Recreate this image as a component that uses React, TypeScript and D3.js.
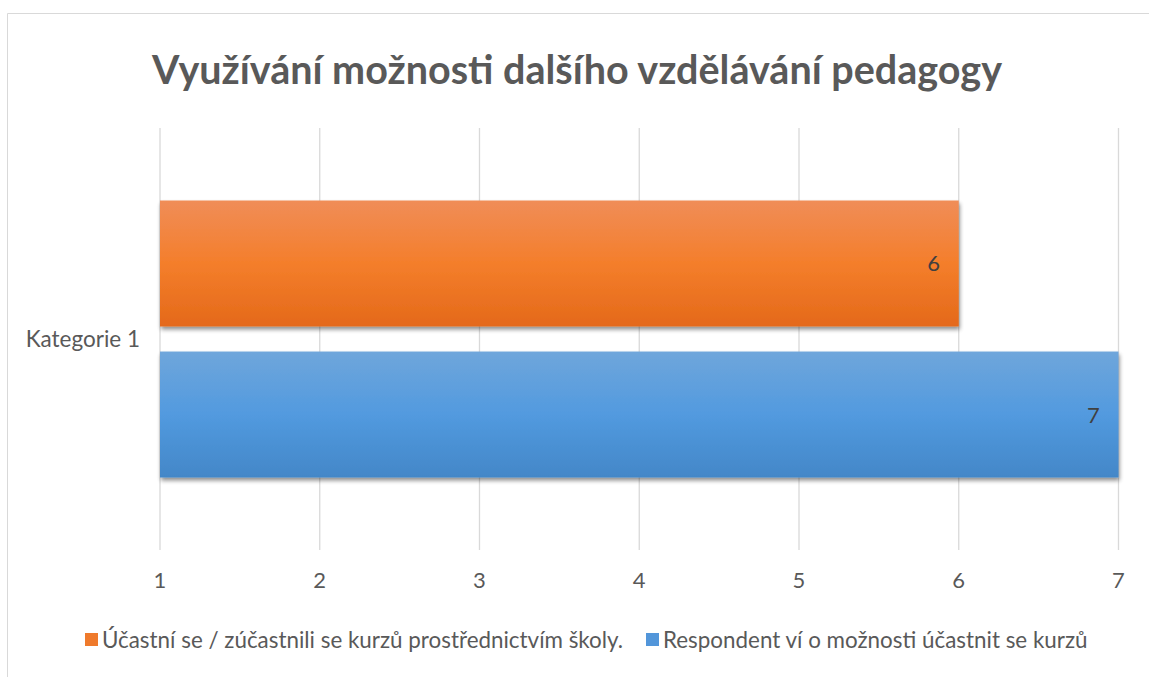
import React from "react";
import * as d3 from "d3";

const title = "Využívání možnosti dalšího vzdělávání pedagogy";
const categories = ["Kategorie 1"];
const seriesNames = [
  "Účastní se / zúčastnili se kurzů prostřednictvím školy.",
  "Respondent ví o možnosti účastnit se kurzů",
];
const seriesValues = [[6], [7]];
const xTicks = [1, 2, 3, 4, 5, 6, 7];

const W = 1149;
const H = 677;
const FONT = "Lato, 'Open Sans', sans-serif";
const TEXT = "#595959";

export default function App() {
  const x = d3.scaleLinear().domain([1, 7]).range([160, 1118.5]);
  const yBand = d3.scaleBand().domain(categories).range([128, 550]);
  const inner = d3
    .scaleBand()
    .domain(seriesNames.map((_, i) => String(i)))
    .range([0, yBand.bandwidth()])
    .paddingInner(0.166)
    .paddingOuter(0.48);

  const gradIds = ["gOrange", "gBlue"];
  const grads = [
    ["#F08D58", "#F47E2B", "#E4691A"],
    ["#6FA6DB", "#529ADF", "#4387C8"],
  ];
  const legendColors = ["#EF7A2C", "#5296DA"];

  return (
    <svg
      width={W}
      height={H}
      style={{ position: "absolute", left: 0, top: 0, background: "#fff" }}
      fontFamily={FONT}
    >
      <defs>
        {grads.map((g, i) => (
          <linearGradient key={i} id={gradIds[i]} x1="0" y1="0" x2="0" y2="1">
            <stop offset="0%" stopColor={g[0]} />
            <stop offset="50%" stopColor={g[1]} />
            <stop offset="100%" stopColor={g[2]} />
          </linearGradient>
        ))}
        <filter id="shadow" x="-5%" y="-20%" width="110%" height="150%">
          <feGaussianBlur in="SourceAlpha" stdDeviation="2" />
          <feOffset dx="1" dy="3" result="off" />
          <feComponentTransfer>
            <feFuncA type="linear" slope="0.45" />
          </feComponentTransfer>
          <feMerge>
            <feMergeNode />
            <feMergeNode in="SourceGraphic" />
          </feMerge>
        </filter>
      </defs>
      <rect x={0} y={0} width={W} height={H} fill="#fff" />
      <line x1={7.5} y1={13.5} x2={W} y2={13.5} stroke="#D9D9D9" strokeWidth={1} />
      <line x1={7.5} y1={13.5} x2={7.5} y2={H} stroke="#D9D9D9" strokeWidth={1} />

      <text
        x={577}
        y={84}
        textAnchor="middle"
        fontSize={39.5}
        fontWeight="bold"
        fill={TEXT}
      >
        {title}
      </text>

      {xTicks.map((t) => (
        <line
          key={t}
          x1={x(t)}
          x2={x(t)}
          y1={128}
          y2={550}
          stroke="#D9D9D9"
          strokeWidth={1.3}
        />
      ))}

      {categories.map((c, ci) =>
        seriesNames.map((s, si) => {
          const y0 = (yBand(c) as number) + (inner(String(si)) as number);
          const h = inner.bandwidth();
          const v = seriesValues[si][ci];
          return (
            <g key={si}>
              <rect
                x={x(1)}
                y={y0}
                width={x(v) - x(1)}
                height={h}
                fill={`url(#${gradIds[si]})`}
                filter="url(#shadow)"
              />
              <text
                x={x(v) - 25}
                y={y0 + h / 2 + 8}
                textAnchor="middle"
                fontSize={22}
                fill="#404040"
              >
                {v}
              </text>
            </g>
          );
        })
      )}

      {categories.map((c) => (
        <text
          key={c}
          x={140}
          y={(yBand(c) as number) + yBand.bandwidth() / 2 + 8}
          textAnchor="end"
          fontSize={22.5}
          fill={TEXT}
        >
          {c}
        </text>
      ))}

      {xTicks.map((t) => (
        <text
          key={t}
          x={x(t)}
          y={588}
          textAnchor="middle"
          fontSize={22}
          fill={TEXT}
        >
          {t}
        </text>
      ))}

      {[
        { x: 85, tx: 102 },
        { x: 646, tx: 663 },
      ].map((p, i) => (
        <g key={i}>
          <rect x={p.x} y={633} width={13} height={13} fill={legendColors[i]} />
          <text x={p.tx} y={648} fontSize={22.4} fill={TEXT}>
            {seriesNames[i]}
          </text>
        </g>
      ))}
    </svg>
  );
}
